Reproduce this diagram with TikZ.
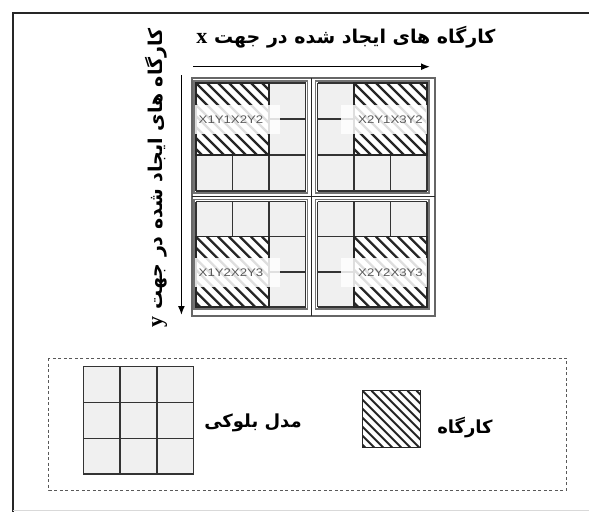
\documentclass[tikz,border=0pt]{standalone}
\usepackage{fontspec}
\setmainfont{Liberation Sans}
\newfontfamily\farsifont[Script=Arabic]{DejaVu Sans}
\newfontfamily\latinx{Liberation Serif}
\TeXXeTstate=1
\usetikzlibrary{arrows.meta}
% 3x3 block model: x0, y0, cell width, cell height
\newcommand{\blockgrid}[4]{%
  \fill[cellfill] (#1,#2) rectangle ++(3*#3,3*#4);
  \foreach \k in {0,...,3} {
    \draw[cellline] (#1+\k*#3,#2) -- ++(0,3*#4);
    \draw[cellline] (#1,#2+\k*#4) -- ++(3*#3,0);
  }
}
% workshop hatch: x0, y0, x1, y1, period, line width
\newcommand{\hatchbox}[6]{%
  \begin{scope}
    \clip (#1,#2) rectangle (#3,#4);
    \fill[white] (#1,#2) rectangle (#3,#4);
    \foreach \i in {-12,...,12}
      \draw[black!85,line width=#6] (#1+\i*#5,#2) -- ++(110,110);
  \end{scope}
  \draw[hatchedge] (#1,#2) rectangle (#3,#4);
}
\newcommand{\axisletter}[1]{\beginL{\latinx\bfseries\fontsize{22}{22}\selectfont #1}\endL}

\begin{document}
\begin{tikzpicture}[
  x=1pt, y=-1pt,
  cellfill/.style={fill=black!6},
  cellline/.style={draw=black!80,line width=1.5pt},
  hatchedge/.style={draw=black!85,line width=1.5pt},
  tagbox/.style={fill=white,opacity=0.85},
  tag/.style={font=\fontsize{11}{12}\selectfont,text=black!65,inner sep=0pt,xscale=1.2},
  bigframe/.style={draw=black!60,line width=2.2pt},
  qframe/.style={draw=black!55,line width=1.2pt},
  divider/.style={draw=black!85,line width=1pt},
  axis/.style={-{Latex[length=9pt,width=7pt]},line width=1.5pt},
  ttl/.style={font=\farsifont\bfseries\fontsize{19}{21}\selectfont,inner sep=0pt},
  lgd/.style={font=\farsifont\bfseries\fontsize{18}{20}\selectfont,inner sep=0pt},
]
  \useasboundingbox (0,0) rectangle (589,512);
  \draw[line width=1.8pt,black!85] (589,13) -- (13,13) -- (13,512);
  \draw[black!15,line width=0.8pt] (13,510.5) -- (589,510.5);

  % titles and direction arrows
  \node[ttl] (titlex) at (346,37) {\beginR کارگاه های ایجاد شده در جهت \axisletter{x}\endR};
  \node[ttl,rotate=90] (titley) at (156,178) {\beginR کارگاه های ایجاد شده در جهت \axisletter{y}\endR};
  \coordinate (xs) at (193,66.7);
  \coordinate (xe) at (430,66.7);
  \coordinate (ys) at (181.4,75);
  \coordinate (ye) at (181.4,315);
  \draw[axis] (xs) -- (xe);
  \draw[axis] (ys) -- (ye);

  % the four block models
  \blockgrid{196}{83}{36.5}{36}
  \blockgrid{317.5}{83}{36.5}{36}
  \blockgrid{196}{201.5}{36.5}{35.2}
  \blockgrid{317.5}{201.5}{36.5}{35.2}

  \draw[bigframe] (192,78) rectangle (435,316);
  \draw[qframe] (194,81) rectangle (307.5,193);
  \draw[qframe] (315.5,81) rectangle (429,193);
  \draw[qframe] (194,199.5) rectangle (307.5,309);
  \draw[qframe] (315.5,199.5) rectangle (429,309);
  \draw[divider] (311.5,78) -- (311.5,316);
  \draw[divider] (192,196.5) -- (435,196.5);

  % workshops
  \hatchbox{196}{83}{269}{155}{11}{2.4pt}
  \hatchbox{354}{83}{427}{155}{11}{2.4pt}
  \hatchbox{196}{236.7}{269}{307.1}{11}{2.4pt}
  \hatchbox{354}{236.7}{427}{307.1}{11}{2.4pt}

  \fill[tagbox] (195,105) rectangle (280,134);
  \fill[tagbox] (341,105) rectangle (427,134);
  \fill[tagbox] (195,258) rectangle (280,287);
  \fill[tagbox] (341,258) rectangle (427,287);
  \node[tag] (w1) at (231,120) {X1Y1X2Y2};
  \node[tag] (w2) at (390.5,120) {X2Y1X3Y2};
  \node[tag] (w3) at (231,273) {X1Y2X2Y3};
  \node[tag] (w4) at (390.5,273) {X2Y2X3Y3};

  % legend
  \draw[black!65,line width=1pt,dash pattern=on 3pt off 2.5pt] (48.8,358) rectangle (566.5,490);
  \blockgrid{83.4}{366.7}{36.7}{35.8}
  \node[lgd] (lgblock) at (253,423) {\beginR مدل بلوکی\endR};
  \hatchbox{362.5}{390.7}{420.7}{447.3}{9}{2pt}
  \node[lgd] (lgwork) at (465,428) {\beginR کارگاه\endR};
\end{tikzpicture}
\end{document}
